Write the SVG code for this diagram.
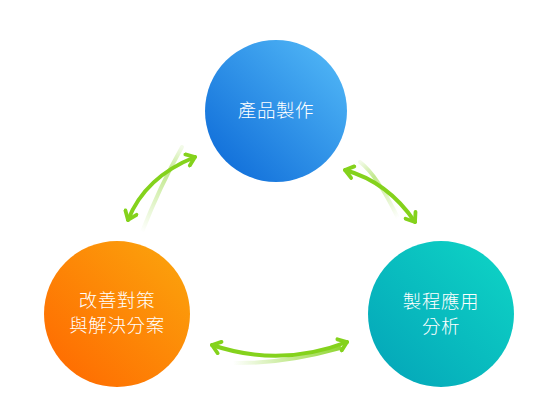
<svg xmlns="http://www.w3.org/2000/svg" width="554" height="402" viewBox="0 0 554 402">
<style>
.lbl{font-family:"Noto Sans CJK TC","Noto Sans CJK SC",sans-serif;font-size:18.5px;letter-spacing:0.6px;font-weight:300;fill:#ffffff;text-anchor:middle}
.arr{fill:none;stroke:#84d21c;stroke-width:4;stroke-linecap:round;marker-start:url(#head);marker-end:url(#head)}
.trail{fill:none;stroke-width:4;stroke-linecap:round}
</style>
<defs>
<linearGradient id="gBlue" x1="1" y1="0" x2="0" y2="1">
<stop offset="0" stop-color="#56bdf9"/><stop offset="1" stop-color="#0966d6"/>
</linearGradient>
<linearGradient id="gOrange" x1="1" y1="0" x2="0" y2="1">
<stop offset="0" stop-color="#fba70d"/><stop offset="1" stop-color="#ff6600"/>
</linearGradient>
<linearGradient id="gTeal" x1="1" y1="0" x2="0" y2="1">
<stop offset="0" stop-color="#0fd6c6"/><stop offset="1" stop-color="#03a3b8"/>
</linearGradient>
<linearGradient id="tLeft" gradientUnits="userSpaceOnUse" x1="182" y1="147" x2="142" y2="232">
<stop offset="0" stop-color="#84d21c" stop-opacity="0.1"/><stop offset="0.3" stop-color="#84d21c" stop-opacity="0.5"/><stop offset="1" stop-color="#84d21c" stop-opacity="0"/>
</linearGradient>
<linearGradient id="tRight" gradientUnits="userSpaceOnUse" x1="360" y1="162" x2="398" y2="218">
<stop offset="0" stop-color="#84d21c" stop-opacity="0.1"/><stop offset="0.3" stop-color="#84d21c" stop-opacity="0.5"/><stop offset="1" stop-color="#84d21c" stop-opacity="0"/>
</linearGradient>
<linearGradient id="tBottom" gradientUnits="userSpaceOnUse" x1="233" y1="363" x2="340" y2="350">
<stop offset="0" stop-color="#84d21c" stop-opacity="0"/><stop offset="1" stop-color="#84d21c" stop-opacity="0.9"/>
</linearGradient>
<marker id="head" viewBox="0 0 16 16" refX="12.5" refY="8" markerWidth="16" markerHeight="16" markerUnits="userSpaceOnUse" orient="auto-start-reverse">
<path d="M4.5,2 L12.5,8 L4.5,14" fill="none" stroke="#84d21c" stroke-width="3.8" stroke-linecap="round" stroke-linejoin="round"/>
</marker>
</defs>
<g id="connectors">
<path class="trail" stroke="url(#tLeft)" d="M182,147 Q160,186 142,232"/>
<path class="arr" d="M128,220 Q145,177 195,157"/>
<path class="trail" stroke="url(#tRight)" d="M360,162 Q377,175 398,218"/>
<path class="arr" d="M345,170 Q388,182 415,222"/>
<path class="trail" stroke="url(#tBottom)" d="M233,363 Q283,364 340,348"/>
<path class="arr" d="M212,345 Q280,368 347,342"/>
</g>
<g id="node-product">
<circle cx="276" cy="111" r="71" fill="url(#gBlue)"/>
<text class="lbl" x="276" y="117">產品製作</text>
</g>
<g id="node-improve">
<circle cx="117" cy="314" r="73" fill="url(#gOrange)"/>
<text class="lbl" x="117" y="307">改善對策</text>
<text class="lbl" x="117" y="332">與解決分案</text>
</g>
<g id="node-process">
<circle cx="441" cy="314" r="73" fill="url(#gTeal)"/>
<text class="lbl" x="441" y="308">製程應用</text>
<text class="lbl" x="441" y="333">分析</text>
</g>
</svg>
